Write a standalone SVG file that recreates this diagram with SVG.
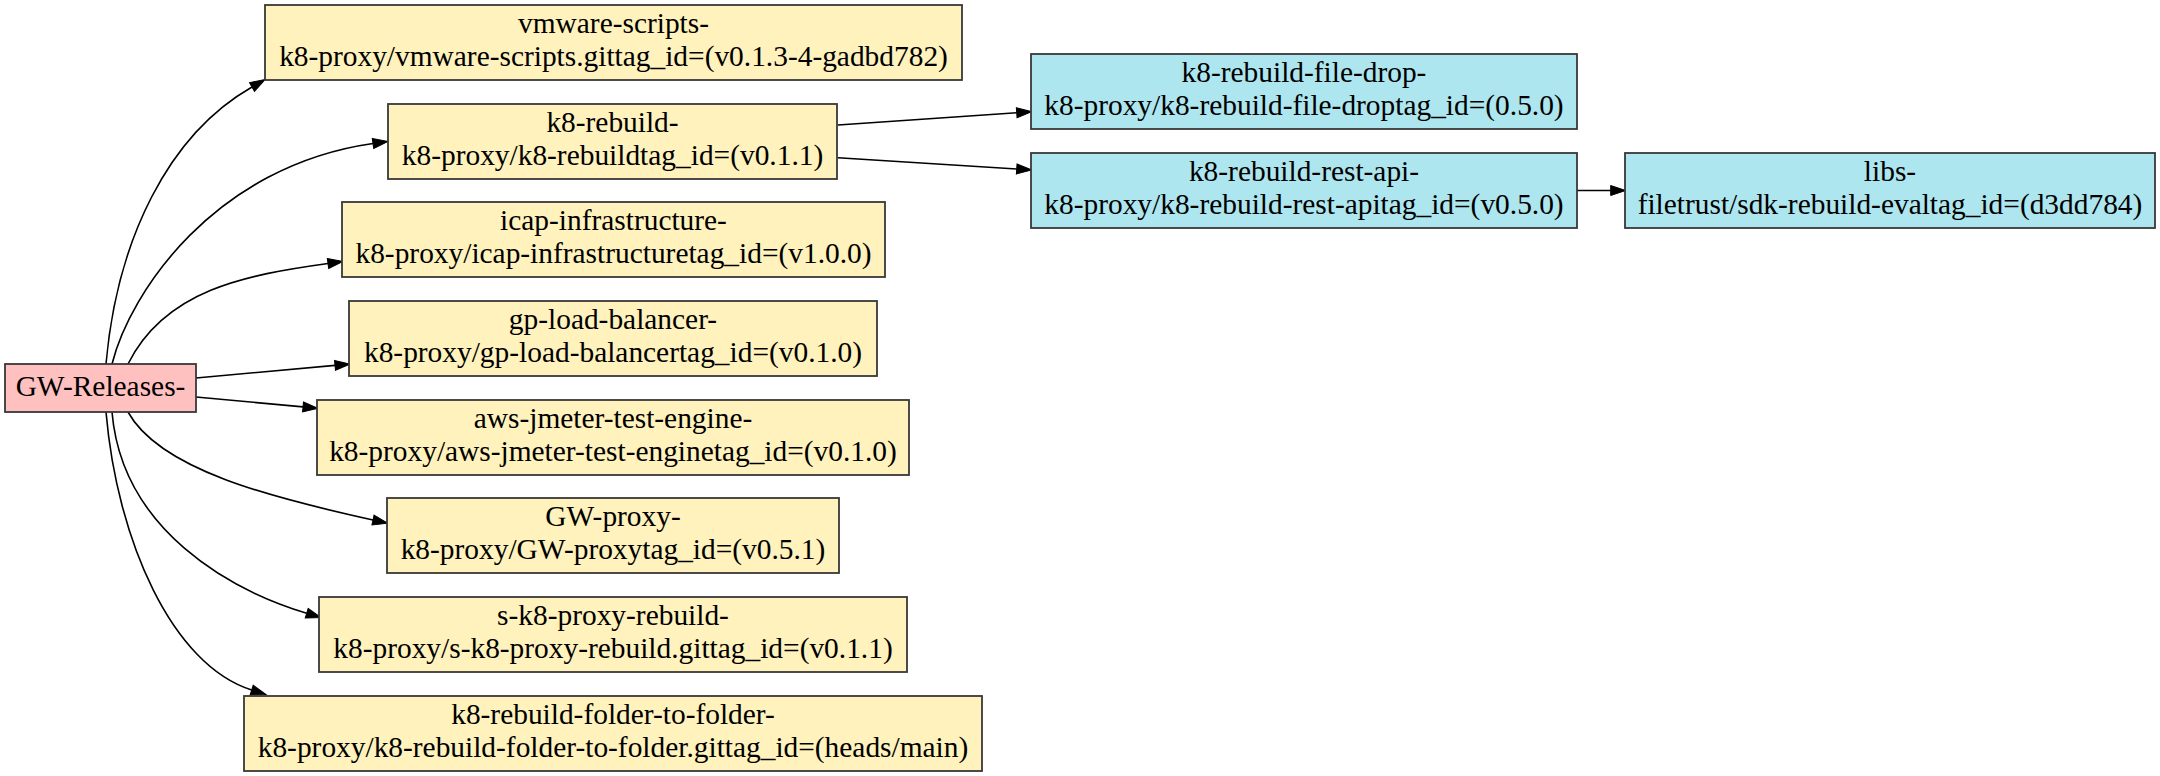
<svg xmlns="http://www.w3.org/2000/svg" width="2160" height="776" viewBox="0 0 2160 776">
  <style>
    .node rect { stroke: #383838; stroke-width: 1.8; }
    .root rect { fill: #ffc0c0; }
    .repo rect { fill: #fff2bd; }
    .dep rect { fill: #ade6ee; }
    text { font-family: "Liberation Serif", "Times New Roman", serif; font-size: 29.4px; fill: #000; text-anchor: middle; }
    .edges path { fill: none; stroke: #000; stroke-width: 1.6; marker-end: url(#arrow); }
  </style>
  <defs>
    <marker id="arrow" markerUnits="userSpaceOnUse" markerWidth="16" markerHeight="12" refX="0" refY="5" orient="auto" overflow="visible">
      <path d="M0,0 L15,5 L0,10 Z" fill="#000" stroke="#000" stroke-width="1"/>
    </marker>
  </defs>
  <rect width="2160" height="776" fill="#fff"/>

  <g class="edges">
    <path d="M106,364 C117,240 168,135 252,87"/>
    <path d="M112,364 C130,292 215,166 373,143.5"/>
    <path d="M128,364 C165,290 245,275 328,263.5"/>
    <path d="M196,378 L335,365.4"/>
    <path d="M196,397 L303,406.9"/>
    <path d="M128,412 C160,470 273,498 373,520"/>
    <path d="M112,412 C122,530 230,590 306.7,613.3"/>
    <path d="M106,412 C117,540 172,665 251.7,690"/>
    <path d="M838,125 L1016.7,112.7"/>
    <path d="M838,157.7 L1016.7,169"/>
    <path d="M1577,190.5 L1610.7,190.5"/>
  </g>

  <g id="gw-releases" class="node root">
    <rect x="5" y="364" width="191" height="48"/>
    <text x="100.5" y="396">GW-Releases-</text>
  </g>

  <g id="vmware-scripts" class="node repo">
    <rect x="265" y="5" width="697" height="75"/>
    <text x="613.5" y="33">vmware-scripts-</text>
    <text x="613.5" y="66">k8-proxy/vmware-scripts.gittag_id=(v0.1.3-4-gadbd782)</text>
  </g>

  <g id="k8-rebuild" class="node repo">
    <rect x="388" y="104" width="449" height="75"/>
    <text x="612.5" y="132">k8-rebuild-</text>
    <text x="612.5" y="165">k8-proxy/k8-rebuildtag_id=(v0.1.1)</text>
  </g>

  <g id="icap-infrastructure" class="node repo">
    <rect x="342" y="202" width="543" height="75"/>
    <text x="613.5" y="230">icap-infrastructure-</text>
    <text x="613.5" y="263">k8-proxy/icap-infrastructuretag_id=(v1.0.0)</text>
  </g>

  <g id="gp-load-balancer" class="node repo">
    <rect x="349" y="301" width="528" height="75"/>
    <text x="613" y="329">gp-load-balancer-</text>
    <text x="613" y="362">k8-proxy/gp-load-balancertag_id=(v0.1.0)</text>
  </g>

  <g id="aws-jmeter-test-engine" class="node repo">
    <rect x="317" y="400" width="592" height="75"/>
    <text x="613" y="428">aws-jmeter-test-engine-</text>
    <text x="613" y="461">k8-proxy/aws-jmeter-test-enginetag_id=(v0.1.0)</text>
  </g>

  <g id="gw-proxy" class="node repo">
    <rect x="387" y="498" width="452" height="75"/>
    <text x="613" y="526">GW-proxy-</text>
    <text x="613" y="559">k8-proxy/GW-proxytag_id=(v0.5.1)</text>
  </g>

  <g id="s-k8-proxy-rebuild" class="node repo">
    <rect x="319" y="597" width="588" height="75"/>
    <text x="613" y="625">s-k8-proxy-rebuild-</text>
    <text x="613" y="658">k8-proxy/s-k8-proxy-rebuild.gittag_id=(v0.1.1)</text>
  </g>

  <g id="k8-rebuild-folder-to-folder" class="node repo">
    <rect x="244" y="696" width="738" height="75"/>
    <text x="613" y="724">k8-rebuild-folder-to-folder-</text>
    <text x="613" y="757">k8-proxy/k8-rebuild-folder-to-folder.gittag_id=(heads/main)</text>
  </g>

  <g id="k8-rebuild-file-drop" class="node dep">
    <rect x="1031" y="54" width="546" height="75"/>
    <text x="1304" y="82">k8-rebuild-file-drop-</text>
    <text x="1304" y="115">k8-proxy/k8-rebuild-file-droptag_id=(0.5.0)</text>
  </g>

  <g id="k8-rebuild-rest-api" class="node dep">
    <rect x="1031" y="153" width="546" height="75"/>
    <text x="1304" y="181">k8-rebuild-rest-api-</text>
    <text x="1304" y="214">k8-proxy/k8-rebuild-rest-apitag_id=(v0.5.0)</text>
  </g>

  <g id="libs" class="node dep">
    <rect x="1625" y="153" width="530" height="75"/>
    <text x="1890" y="181">libs-</text>
    <text x="1890" y="214">filetrust/sdk-rebuild-evaltag_id=(d3dd784)</text>
  </g>
</svg>
